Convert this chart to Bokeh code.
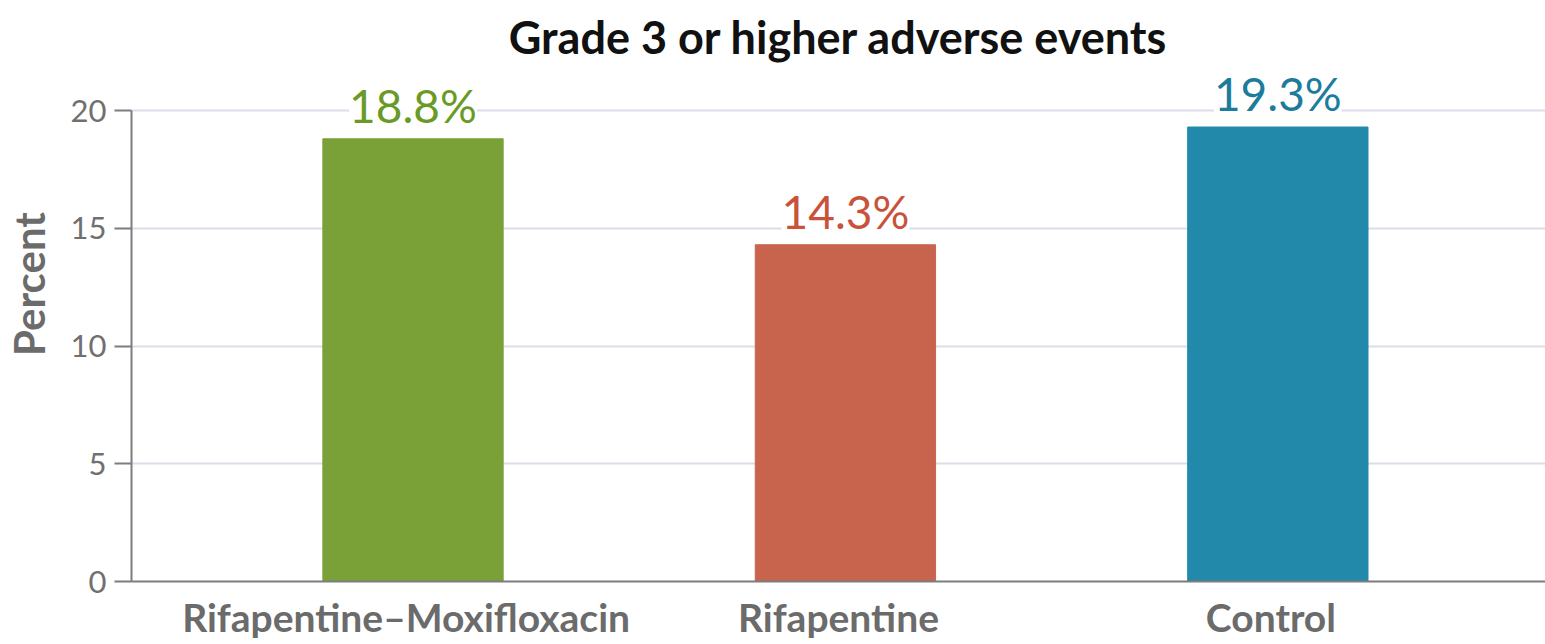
from bokeh.plotting import figure
from bokeh.models import ColumnDataSource, FactorRange, Range1d, LabelSet, FixedTicker
from bokeh.transform import dodge
from bokeh.core.properties import value
from bokeh.embed import file_html
from bokeh.resources import INLINE

# Grade 3 or higher adverse events, percent of participants per arm
arms = ["Rifapentine\u2013Moxifloxacin", "Rifapentine", "Control"]
percent = [18.8, 14.3, 19.3]
bar_colors = ["#7aa138", "#c8644e", "#2289ab"]
label_colors = ["#6a9a26", "#c8523a", "#1c7c9c"]
y_ticks = [0, 5, 10, 15, 20]

source = ColumnDataSource(dict(
    arm=arms,
    pct=percent,
    color=bar_colors,
    label_color=label_colors,
    label=[f"{v}%" for v in percent],
))

FONT = "Lato"
GREY = "#6b6b6b"

p = figure(
    width=1545, height=644,
    x_range=FactorRange(factors=arms, range_padding=0.135, range_padding_units="absolute"),
    y_range=Range1d(0, 21.7),
    output_backend="svg", toolbar_location=None,
    min_border_left=130, min_border_right=0, min_border_top=70, min_border_bottom=63,
    title="Grade 3 or higher adverse events",
)
p.outline_line_color = None

p.title.align = "center"
p.title.vertical_align = "top"
p.title.text_font = FONT
p.title.text_font_size = "45px"
p.title.text_font_style = "bold"
p.title.text_color = "#111111"
p.title.standoff = 10

# bars sit a touch right of the category ticks
bar_x = dodge("arm", 0.016, range=p.x_range)
p.vbar(x=bar_x, top="pct", width=0.417, color="color", source=source)

labels = LabelSet(
    x=bar_x, y="pct", text="label", source=source,
    text_align="center", text_baseline="bottom", y_offset=6,
    text_font=value(FONT), text_font_size="46px", text_color="label_color",
    background_fill_color="white",
)
p.add_layout(labels)

# y axis; the en spaces lift the axis title a little above the frame middle
p.yaxis.ticker = FixedTicker(ticks=y_ticks)
p.yaxis.bounds = (0, 20)
p.yaxis.axis_label = "\u2002\u2002\u2002\u2002Percent"
p.yaxis.axis_label_text_font = FONT
p.yaxis.axis_label_text_font_size = "42px"
p.yaxis.axis_label_text_font_style = "bold"
p.yaxis.axis_label_text_color = GREY
p.yaxis.axis_label_standoff = 14
p.yaxis.major_label_text_font = FONT
p.yaxis.major_label_text_font_size = "31px"
p.yaxis.major_label_text_color = "#707070"
p.yaxis.major_label_standoff = 8
p.yaxis.axis_line_color = "#7d7d7d"
p.yaxis.axis_line_width = 2
p.yaxis.major_tick_line_color = "#7d7d7d"
p.yaxis.major_tick_line_width = 2
p.yaxis.major_tick_out = 17
p.yaxis.major_tick_in = 0
p.yaxis.minor_tick_line_color = None

# x axis
p.xaxis.axis_line_color = "#7d7d7d"
p.xaxis.axis_line_width = 2
p.xaxis.major_tick_line_color = None
p.xaxis.major_label_text_font = FONT
p.xaxis.major_label_text_font_size = "39px"
p.xaxis.major_label_text_font_style = "bold"
p.xaxis.major_label_text_color = GREY
p.xaxis.major_label_standoff = 6

p.xgrid.grid_line_color = None
p.ygrid.grid_line_color = "#dddce8"
p.ygrid.grid_line_width = 2

open("out.html", "w").write(file_html(p, INLINE))
